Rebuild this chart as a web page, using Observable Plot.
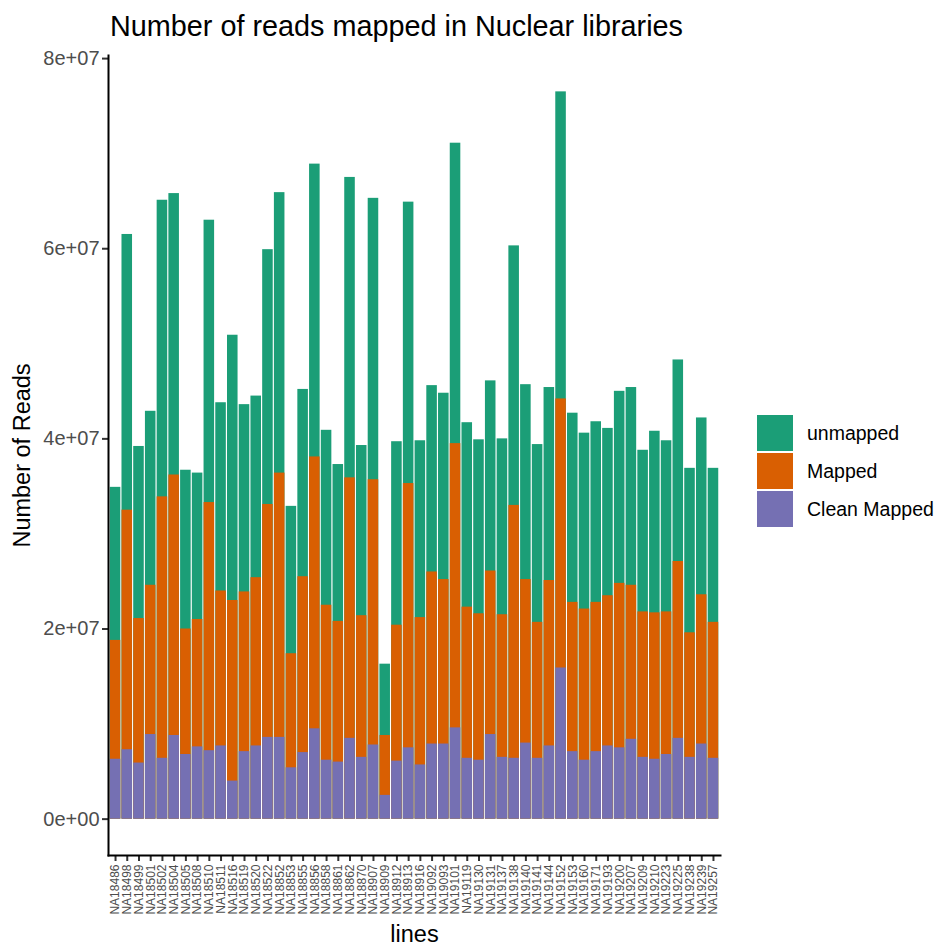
<!DOCTYPE html>
<html>
<head>
<meta charset="utf-8">
<script src="https://cdn.jsdelivr.net/npm/d3@7"></script>
<script src="https://cdn.jsdelivr.net/npm/@observablehq/plot@0.6"></script>
<style>
  body { margin: 0; background: #fff; font-family: "Liberation Sans", Arial, sans-serif; }
  #chart { position: relative; width: 938px; height: 946px; }
  #chart > svg { position: absolute; left: 0; top: 0; }
  #title { position: absolute; left: 110px; top: 12px; font-size: 28.8px; line-height: 1; color: #000; white-space: nowrap; }
  #legend { position: absolute; left: 757px; top: 415px; }
  .key-swatches { font-family: "Liberation Sans", Arial, sans-serif !important; font-size: 19.5px !important; color: #000; margin: 0 !important; }
  .key-swatch { padding-bottom: 2px !important; }
  .key-swatch > svg { margin-right: 14px !important; }
  g[aria-label="y-axis tick label"] text, g[aria-label="x-axis tick label"] text { fill: #4d4d4d; }
  g[aria-label="y-axis tick"] path, g[aria-label="x-axis tick"] path { stroke: #333; }
</style>
</head>
<body>
<div id="chart">
  <div id="title">Number of reads mapped in Nuclear libraries</div>
  <div id="legend"></div>
</div>
<script>
// Cell lines on the x axis
const lines = [
  "NA18486","NA18498","NA18499","NA18501","NA18502","NA18504","NA18505","NA18508",
  "NA18510","NA18511","NA18516","NA18519","NA18520","NA18522","NA18852","NA18853",
  "NA18855","NA18856","NA18858","NA18861","NA18862","NA18870","NA18907","NA18909",
  "NA18912","NA18913","NA18916","NA19092","NA19093","NA19101","NA19119","NA19130",
  "NA19131","NA19137","NA19138","NA19140","NA19141","NA19144","NA19152","NA19153",
  "NA19160","NA19171","NA19193","NA19200","NA19207","NA19209","NA19210","NA19223",
  "NA19225","NA19238","NA19239","NA19257"
];

// All reads per library (top of the "unmapped" bar)
const allReads = [
  34.9e6, 61.5e6, 39.2e6, 42.9e6, 65.1e6, 65.8e6, 36.7e6, 36.4e6,
  63.0e6, 43.8e6, 50.9e6, 43.6e6, 44.5e6, 59.9e6, 65.9e6, 32.9e6,
  45.2e6, 68.9e6, 40.9e6, 37.3e6, 67.5e6, 39.3e6, 65.3e6, 16.3e6,
  39.7e6, 64.9e6, 39.8e6, 45.6e6, 44.8e6, 71.1e6, 41.7e6, 39.9e6,
  46.1e6, 40.0e6, 60.3e6, 45.7e6, 39.4e6, 45.4e6, 76.5e6, 42.7e6,
  40.6e6, 41.8e6, 41.1e6, 45.0e6, 45.4e6, 38.8e6, 40.8e6, 39.8e6,
  48.3e6, 36.9e6, 42.2e6, 36.9e6
];

// Mapped reads per library
const mappedReads = [
  18.8e6, 32.5e6, 21.1e6, 24.6e6, 33.9e6, 36.2e6, 20.0e6, 21.0e6,
  33.3e6, 24.0e6, 23.0e6, 23.9e6, 25.4e6, 33.1e6, 36.4e6, 17.4e6,
  25.5e6, 38.1e6, 22.5e6, 20.8e6, 35.9e6, 21.4e6, 35.7e6, 8.8e6,
  20.4e6, 35.3e6, 21.2e6, 26.0e6, 25.2e6, 39.5e6, 22.3e6, 21.6e6,
  26.1e6, 21.5e6, 33.0e6, 25.2e6, 20.7e6, 25.1e6, 44.2e6, 22.8e6,
  22.1e6, 22.8e6, 23.5e6, 24.8e6, 24.6e6, 21.8e6, 21.7e6, 21.8e6,
  27.1e6, 19.6e6, 23.6e6, 20.7e6
];

// Clean mapped reads per library
const cleanMappedReads = [
  6.3e6, 7.3e6, 5.9e6, 8.9e6, 6.4e6, 8.8e6, 6.8e6, 7.6e6,
  7.2e6, 7.7e6, 4.0e6, 7.1e6, 7.7e6, 8.6e6, 8.6e6, 5.4e6,
  7.0e6, 9.5e6, 6.2e6, 6.0e6, 8.5e6, 6.5e6, 7.8e6, 2.5e6,
  6.1e6, 7.5e6, 5.7e6, 7.9e6, 7.9e6, 9.6e6, 6.4e6, 6.2e6,
  8.9e6, 6.5e6, 6.4e6, 8.0e6, 6.4e6, 7.7e6, 15.9e6, 7.1e6,
  6.2e6, 7.1e6, 7.7e6, 7.5e6, 8.4e6, 6.5e6, 6.3e6, 6.8e6,
  8.5e6, 6.5e6, 7.9e6, 6.4e6
];

const series = ["unmapped", "Mapped", "Clean Mapped"];
const seriesColors = ["#1B9E77", "#D95F02", "#7570B3"];

const yTicks = [0, 2e7, 4e7, 6e7, 8e7];
const yTickLabels = ["0e+00", "2e+07", "4e+07", "6e+07", "8e+07"];

// Long table: bars are overlaid, each from zero, drawn in series order
const rows = lines.flatMap((line, i) => [
  {line, series: series[0], reads: allReads[i]},
  {line, series: series[1], reads: mappedReads[i]},
  {line, series: series[2], reads: cleanMappedReads[i]}
]);

// 5% expansion on both ends of the y range
const yMax = d3.max(allReads);
const yPad = yMax * 0.05;

const chart = Plot.plot({
  width: 938,
  height: 946,
  marginLeft: 108,
  marginRight: 218,
  marginTop: 55,
  marginBottom: 91,
  style: {fontFamily: "Liberation Sans, Arial, sans-serif", fontSize: "20px", background: "white", color: "#000"},
  x: {domain: lines, paddingInner: 0.1, paddingOuter: 0.15, label: null},
  y: {domain: [-yPad, yMax + yPad], label: null},
  color: {domain: series, range: seriesColors},
  marks: [
    Plot.barY(rows, {x: "line", y1: 0, y2: "reads", fill: "series"}),
    Plot.axisY({
      ticks: yTicks,
      tickFormat: d => yTickLabels[yTicks.indexOf(d)],
      tickSize: 6, tickPadding: 3, strokeWidth: 2, fontSize: 20, label: null
    }),
    Plot.axisX({
      tickRotate: -90, tickSize: 6, tickPadding: 3, strokeWidth: 2, fontSize: 12, label: null
    }),
    Plot.frame({anchor: "left", stroke: "#000", strokeWidth: 2}),
    Plot.frame({anchor: "bottom", stroke: "#000", strokeWidth: 2}),
    Plot.text(["Number of Reads"], {frameAnchor: "left", textAnchor: "middle", rotate: -90, dx: -86, fontSize: 23.5, fill: "#000"}),
    Plot.text(["lines"], {frameAnchor: "bottom", textAnchor: "middle", dy: 86, fontSize: 23.5, fill: "#000"})
  ]
});

document.getElementById("chart").prepend(chart);

const legend = Plot.legend({
  color: {domain: series, range: seriesColors},
  legend: "swatches",
  columns: 1,
  swatchSize: 36,
  className: "key"
});
document.getElementById("legend").append(legend);
</script>
</body>
</html>
